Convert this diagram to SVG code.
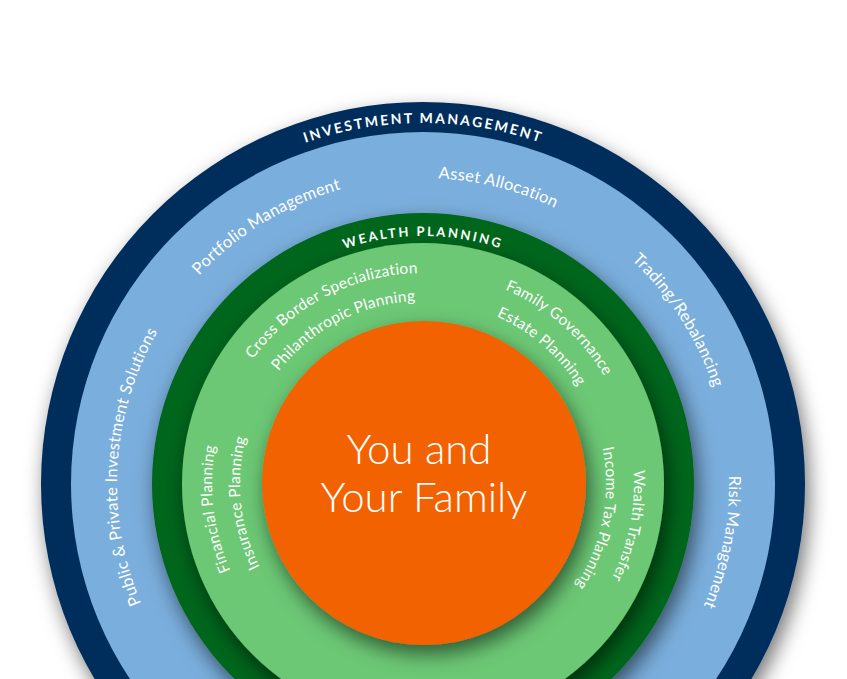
<svg xmlns="http://www.w3.org/2000/svg" xmlns:xlink="http://www.w3.org/1999/xlink" width="847" height="679" viewBox="0 0 847 679">
<defs>
<filter id="sh" x="-30%" y="-30%" width="160%" height="160%">
<feDropShadow dx="4" dy="9" stdDeviation="10" flood-color="#000" flood-opacity="0.55"/>
</filter>
<path id="pIM" d="M423,845 A361,361 0 1 1 423,123 A361,361 0 1 1 423,845"/>
<path id="pWP" d="M423,732 A248,248 0 1 1 423,236 A248,248 0 1 1 423,732"/>
<path id="pB" d="M423,790 A306,306 0 1 1 423,178 A306,306 0 1 1 423,790"/>
<path id="pGo" d="M423,695 A211,211 0 1 1 423,273 A211,211 0 1 1 423,695"/>
<path id="pGi" d="M423,667 A183,183 0 1 1 423,301 A183,183 0 1 1 423,667"/>
</defs>
<style>
.lbl{font-family:Lato,"Open Sans","Liberation Sans",sans-serif;fill:#fff;text-anchor:middle}
.hd{font-weight:700;font-size:14px;letter-spacing:2.2px}
.hd2{font-weight:700;font-size:13px;letter-spacing:2.4px}
.b{font-size:16.5px;letter-spacing:0.3px}
.g{font-size:15.5px;letter-spacing:0.3px}
.c{font-weight:300;font-size:42px}
</style>
<rect width="847" height="679" fill="#fff"/>
<g id="investment-management">
<circle cx="423" cy="484" r="382" fill="#002e5b" filter="url(#sh)"/>
<circle cx="423" cy="484" r="352" fill="#7aaedc"/>
<text class="lbl hd"><textPath xlink:href="#pIM" startOffset="1134">INVESTMENT MANAGEMENT</textPath></text>
<text class="lbl b"><textPath xlink:href="#pB" startOffset="794">Portfolio Management</textPath></text>
<text class="lbl b"><textPath xlink:href="#pB" startOffset="1037">Asset Allocation</textPath></text>
<text class="lbl b"><textPath xlink:href="#pB" startOffset="1267">Trading/Rebalancing</textPath></text>
<text class="lbl b"><textPath xlink:href="#pB" startOffset="1500">Risk Management</textPath></text>
<text class="lbl b"><textPath xlink:href="#pB" startOffset="499">Public &amp; Private Investment Solutions</textPath></text>
</g>
<g id="wealth-planning">
<circle cx="423" cy="484" r="271" fill="#00661b" filter="url(#sh)"/>
<circle cx="423" cy="484" r="241" fill="#6cc874" filter="url(#sh)"/>
<text class="lbl hd2"><textPath xlink:href="#pWP" startOffset="779">WEALTH PLANNING</textPath></text>
<text class="lbl g"><textPath xlink:href="#pGo" startOffset="561">Cross Border Specialization</textPath></text>
<text class="lbl g"><textPath xlink:href="#pGi" startOffset="488">Philanthropic Planning</textPath></text>
<text class="lbl g"><textPath xlink:href="#pGo" startOffset="814">Family Governance</textPath></text>
<text class="lbl g"><textPath xlink:href="#pGi" startOffset="705">Estate Planning</textPath></text>
<text class="lbl g"><textPath xlink:href="#pGo" startOffset="306">Financial Planning</textPath></text>
<text class="lbl g"><textPath xlink:href="#pGi" startOffset="268">Insurance Planning</textPath></text>
<text class="lbl g"><textPath xlink:href="#pGo" startOffset="1036">Wealth Transfer</textPath></text>
<text class="lbl g"><textPath xlink:href="#pGi" startOffset="898">Income Tax Planning</textPath></text>
</g>
<g id="you-and-your-family">
<circle cx="424" cy="483" r="162" fill="#f26200" filter="url(#sh)"/>
<text class="lbl c" x="419" y="464">You and</text>
<text class="lbl c" x="424" y="512">Your Family</text>
</g>
</svg>
